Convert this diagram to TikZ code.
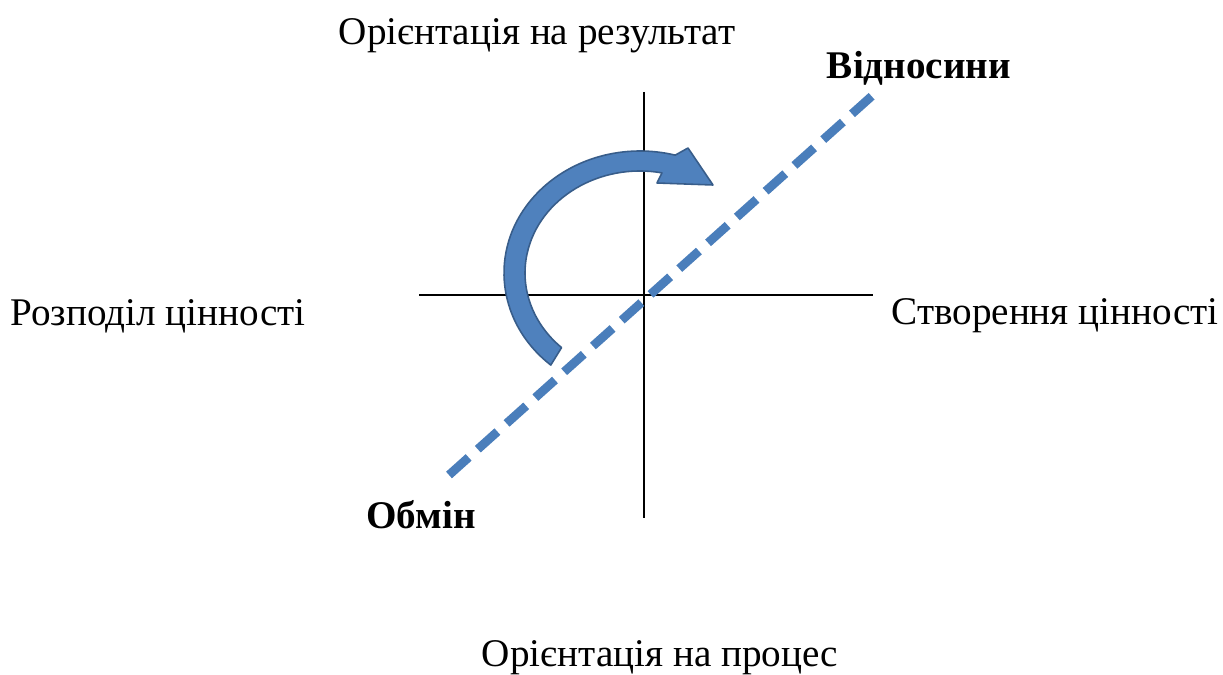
\documentclass[tikz,border=0pt]{standalone}
\usepackage{fontspec}
\setmainfont{Liberation Serif}
\usetikzlibrary{calc}
\definecolor{linkblue}{HTML}{4A7EBB}
\definecolor{turnblue}{HTML}{4F81BD}
\definecolor{turnedge}{HTML}{385D8A}

\begin{document}
\begin{tikzpicture}[
        x=0.02cm, y=-0.02cm,
        lbl/.style  = {font=\fontsize{22.3}{26}\selectfont, inner sep=0pt},
        blbl/.style = {inner sep=0pt, font=\fontsize{22.3}{26}\selectfont\bfseries},
        axis/.style = {line width=1.1pt},
        link/.style = {linkblue, line width=5pt, dash pattern=on 15pt off 7pt},
        turn/.style = {fill=turnblue, draw=turnedge, line width=0.9pt, line join=round}
    ]
    \useasboundingbox (0,0) rectangle (1223,675);
    % axes
    \coordinate (top) at (644,92);
    \coordinate (bot) at (644,518);
    \coordinate (lft) at (419,295);
    \coordinate (rgt) at (873,295);
    \draw[axis] (top) -- (bot);
    \draw[axis] (lft) -- (rgt);
    % dashed line
    \coordinate (ex)  at (449,475);
    \coordinate (rel) at (873,95);
    \draw[link] (ex) -- (rel);
    % curved arrow
    \coordinate (c) at (640,273);
    \filldraw[turn] ($(c)+(131:136 and 122)$)
        arc[start angle=131, end angle=285, x radius=136, y radius=122]
        -- (688,148) -- (713,185) -- (657,183)
        -- ($(c)+(281:115 and 102)$)
        arc[start angle=281, end angle=133, x radius=115, y radius=102] -- cycle;
    % labels
    \node[lbl]  (res)  at (537,36)  {Орієнтація на результат};
    \node[blbl] (relt) at (919,68)  {Відносини};
    \node[lbl]  (dist) at (158,316) {Розподіл цінності};
    \node[lbl]  (crt)  at (1055,316) {Створення цінності};
    \node[blbl] (ext)  at (421,515) {Обмін};
    \node[lbl]  (proc) at (660,658) {Орієнтація на процес};
\end{tikzpicture}
\end{document}
